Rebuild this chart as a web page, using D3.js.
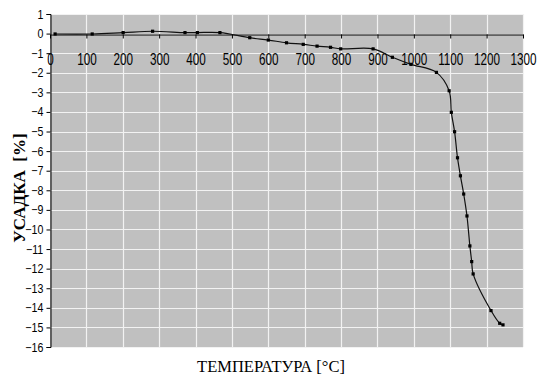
<!DOCTYPE html>
<html>
<head>
<meta charset="utf-8">
<script src="https://cdn.jsdelivr.net/npm/d3@7"></script>
<style>
  body { margin: 0; background: #fff; }
  .tick-x { font-family: "Liberation Sans", Arial, sans-serif; font-size: 15px; fill: #000; }
  .tick-y { font-family: "Liberation Sans", Arial, sans-serif; font-size: 12.5px; fill: #000; }
  .axis-title { font-family: "Liberation Serif", "Times New Roman", serif; fill: #000; }
</style>
</head>
<body>
<div id="chart"></div>
<script>
// temperature, deg C
var temps = [14, 116, 201, 282, 371, 405, 467, 549, 600, 650, 696, 734, 771, 799,
  888, 941, 992, 1062, 1097, 1103, 1112, 1120, 1128, 1137, 1146, 1154, 1159, 1163,
  1212, 1236, 1245];
// shrinkage, %
var shrink = [-0.02, -0.02, 0.05, 0.12, 0.05, 0.05, 0.05, -0.21, -0.33, -0.47, -0.55,
  -0.64, -0.7, -0.78, -0.78, -1.21, -1.57, -1.98, -2.92, -4.02, -5.01, -6.34, -7.26,
  -8.19, -9.31, -10.84, -11.64, -12.27, -14.14, -14.79, -14.87];

var xTicks = d3.range(0, 1301, 100);
var yTicks = d3.range(1, -17, -1);

var svgWidth = 537;
var svgHeight = 376;

var plot = { left: 50, right: 523, top: 14, bottom: 347 };

var svg = d3.select("#chart")
  .append("svg")
  .attr("width", svgWidth)
  .attr("height", svgHeight);

var xScale = d3.scaleLinear().domain([0, 1300]).range([plot.left, plot.right]);
var yScale = d3.scaleLinear().domain([1, -16]).range([plot.top, plot.bottom]);

// plot background
svg.append("rect")
  .attr("x", plot.left)
  .attr("y", plot.top)
  .attr("width", plot.right - plot.left)
  .attr("height", plot.bottom - plot.top)
  .attr("fill", "#c0c0c0");

// grid
svg.append("g").selectAll("line")
  .data(xTicks.slice(1))
  .enter().append("line")
  .attr("x1", d => Math.round(xScale(d)) + 0.5)
  .attr("x2", d => Math.round(xScale(d)) + 0.5)
  .attr("y1", plot.top)
  .attr("y2", plot.bottom)
  .attr("stroke", "#f2f2f2")
  .attr("stroke-width", 1.2);

svg.append("g").selectAll("line")
  .data(yTicks)
  .enter().append("line")
  .attr("x1", plot.left)
  .attr("x2", plot.right)
  .attr("y1", d => Math.round(yScale(d)) + 0.5)
  .attr("y2", d => Math.round(yScale(d)) + 0.5)
  .attr("stroke", "#f2f2f2")
  .attr("stroke-width", 1.2);

// y axis
var leftAxis = d3.axisLeft(yScale)
  .tickValues(yTicks)
  .tickSize(4)
  .tickPadding(3)
  .tickFormat(d3.format("d"));

var yAxis = svg.append("g")
  .attr("transform", `translate(${plot.left + 0.5},0)`)
  .call(leftAxis);
yAxis.select(".domain").attr("stroke", "#000");
yAxis.selectAll("text")
  .attr("class", "tick-y")
  .attr("font-family", null).attr("font-size", null)
  .attr("x", -8.5)
  .attr("transform", "scale(0.85,1)");

// x axis at y = 0
var bottomAxis = d3.axisBottom(xScale)
  .tickValues(xTicks)
  .tickSize(4)
  .tickSizeOuter(0)
  .tickPadding(14)
  .tickFormat(d3.format("d"));

var xAxis = svg.append("g")
  .attr("transform", `translate(0,${Math.round(yScale(0)) + 0.5})`)
  .call(bottomAxis);
xAxis.select(".domain").attr("stroke", "#000");
xAxis.selectAll("text")
  .attr("class", "tick-x")
  .attr("font-family", null).attr("font-size", null)
  .attr("transform", "scale(0.78,1.05)");

// data line
var data = temps.map((t, i) => ({ t: t, s: shrink[i] }));

var line = d3.line()
  .x(d => xScale(d.t))
  .y(d => yScale(d.s))
  .curve(d3.curveCatmullRom.alpha(0.5));

svg.append("path")
  .datum(data)
  .attr("d", line)
  .attr("fill", "none")
  .attr("stroke", "#111")
  .attr("stroke-width", 1.2);

svg.append("g").selectAll("rect")
  .data(data)
  .enter().append("rect")
  .attr("x", d => xScale(d.t) - 1.6)
  .attr("y", d => yScale(d.s) - 1.6)
  .attr("width", 3.2)
  .attr("height", 3.2)
  .attr("fill", "#000");

// axis titles
svg.append("text")
  .attr("class", "axis-title")
  .attr("x", 271)
  .attr("y", 372)
  .attr("text-anchor", "middle")
  .style("font-size", "16.5px")
  .text("ТЕМПЕРАТУРА [°C]");

svg.append("text")
  .attr("class", "axis-title")
  .attr("transform", "translate(25,188) rotate(-90)")
  .attr("text-anchor", "middle")
  .attr("xml:space", "preserve")
  .style("font-size", "17px")
  .style("font-weight", "bold")
  .text("УСАДКА  [%]");
</script>
</body>
</html>
